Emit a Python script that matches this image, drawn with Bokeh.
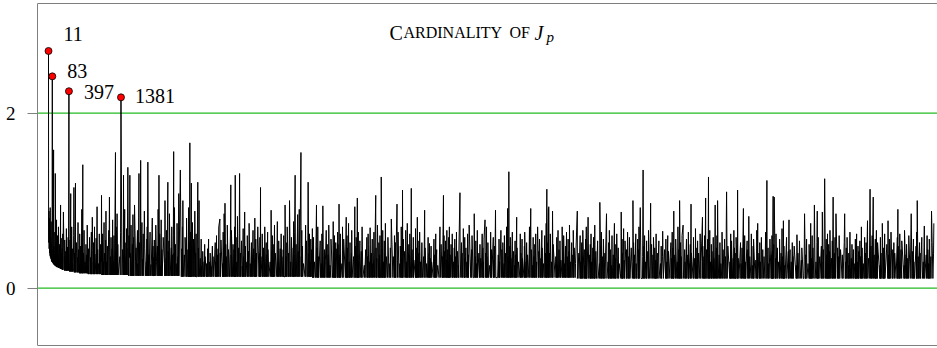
import numpy as np
from bokeh.plotting import figure
from bokeh.models import ColumnDataSource, Range1d, FixedTicker, Label, Span
from bokeh.core.properties import value
from bokeh.embed import file_html
from bokeh.resources import INLINE

# ---------------- data ----------------
# |J_p| ratio for consecutive primes p = 11, 13, 17, ... , values x 100
values_x100 = [
    # p = 11 .. 397
    271, 70, 52, 88, 45, 80, 40, 66, 37, 92,
    35, 58, 33, 76, 31, 50, 30, 62, 242, 29,
    44, 28, 72, 158, 27, 48, 26, 64, 26, 131,
    25, 52, 25, 78, 24, 45, 24, 60, 24, 38,
    23, 70, 23, 50, 23, 34, 22, 95, 22, 57,
    22, 40, 21, 45, 21, 62, 21, 87, 21, 36,
    20, 55, 20, 42, 20, 68, 20, 31, 20, 47,
    20, 58, 20, 225,
    # p = 401 .. 997
    30, 19, 55, 19, 108, 19, 38, 19, 70, 19,
    45, 19, 28, 19, 60, 115, 18, 40, 18, 120,
    18, 52, 18, 35, 18, 75, 18, 44, 18, 27,
    17, 62, 17, 48, 17, 33, 17, 90, 17, 55,
    17, 141, 17, 40, 17, 66, 17, 30, 17, 50,
    17, 38, 17, 72, 17, 26, 16, 45, 16, 58,
    16, 35, 16, 64, 16, 42, 16, 81, 16, 30,
    16, 52, 16, 70, 16, 39, 16, 57, 16, 93,
    16, 44, 16, 28, 16, 62, 16, 36, 16, 50,
    # p = 1009 .. 1499
    30, 106, 15, 45, 15, 62, 15, 30, 15, 75,
    15, 40, 15, 55, 15, 88, 15, 30, 15, 48,
    15, 66, 15, 104, 15, 36, 15, 58, 15, 45,
    15, 78, 15, 30, 15, 60, 15, 155, 15, 42,
    15, 70, 15, 30, 15, 85, 15, 50, 15, 36,
    15, 64, 218, 15, 44, 15, 72, 129, 15, 38,
    15, 90, 15, 52, 15, 30, 15, 68, 15, 46,
    15,
    # p = 1511 .. 1999
    138, 14, 60, 35, 129, 14, 40, 14, 72, 14,
    25, 50, 14, 84, 14, 36, 14, 58, 14, 95,
    30, 14, 46, 14, 66, 14, 28, 14, 131, 14,
    52, 14, 40, 146, 14, 75, 14, 33, 14, 62,
    14, 88, 45, 14, 30, 14, 56, 14, 70, 14,
    144, 14, 38, 14, 64, 14, 27, 14, 80, 14,
    48, 14, 35, 14,
    # p = 2003 .. 2477
    14, 55, 14, 40, 14, 72, 30, 14, 48, 14,
    90, 14, 36, 129, 14, 62, 14, 25, 14, 78,
    14, 44, 14, 58, 28, 14, 100, 14, 34, 14,
    66, 14, 121, 14, 42, 14, 54, 14, 85, 30,
    14, 46, 14, 70, 14, 38, 14, 60, 156, 14,
    40, 14, 92, 14, 50, 14, 28, 14, 74, 14,
    36, 14, 108, 14,
    # p = 2503 .. 2999
    135, 13, 45, 13, 70, 13, 100, 13, 38, 13,
    58, 28, 13, 80, 13, 44, 13, 92, 13, 52,
    13, 166, 13, 36, 13, 64, 13, 120, 13, 48,
    13, 75, 30, 13, 56, 13, 88, 13, 40, 13,
    62, 13, 13, 121, 13, 46, 13, 100, 13, 34,
    13, 56, 13, 25, 13, 42, 13, 30, 13, 50,
    13, 36, 13,
    # p = 3001 .. 3499
    28, 13, 45, 13, 56, 13, 30, 13, 40, 13,
    25, 13, 48, 13, 36, 13, 52, 13, 30, 13,
    60, 13, 38, 13, 45, 13, 70, 79, 13, 40,
    13, 55, 13, 28, 13, 64, 13, 46, 13, 85,
    13, 97, 13, 50, 13, 36, 13, 72, 13, 44,
    13, 60, 118, 13, 38, 13, 66, 13, 50,
    # p = 3511 .. 3989
    13, 44, 13, 70, 13, 36, 129, 13, 58, 13,
    30, 13, 82, 13, 46, 13, 62, 131, 13, 40,
    13, 54, 13, 25, 13, 68, 13, 36, 13, 87,
    13, 48, 13, 30, 13, 60, 13, 42, 13, 74,
    13, 28, 13, 52, 13, 38, 13, 66, 13, 45,
    13, 80, 13, 34, 13, 56, 13, 40, 13, 70,
    13,
    # p = 4001 .. 4493
    40, 13, 58, 13, 115, 13, 36, 13, 62, 13,
    46, 13, 28, 13, 70, 13, 52, 13, 38, 13,
    64, 13, 44, 13, 30, 13, 56, 89, 13, 42,
    13, 60, 13, 34, 13, 50, 13, 72, 13, 40,
    13, 76, 13, 30, 13, 54, 13, 45, 13, 62,
    13, 36, 13,
    # p = 4507 .. 4999
    44, 13, 60, 13, 13, 95, 13, 36, 13, 52,
    13, 70, 13, 40, 13, 100, 13, 30, 13, 58,
    13, 46, 13, 76, 13, 38, 13, 64, 129, 13,
    50, 13, 84, 13, 42, 13, 90, 13, 155, 13,
    36, 13, 66, 13, 48, 13, 28, 13, 72, 13,
    54, 13, 13, 121, 13, 40, 13, 62, 13, 30,
    13, 56, 13, 44, 13, 68,
    # p = 5003 .. 5483
    12, 40, 12, 58, 12, 30, 12, 12, 95, 12,
    46, 12, 70, 12, 36, 12, 54, 12, 28, 12,
    62, 12, 94, 12, 44, 12, 30, 12, 66, 12,
    50, 12, 38, 12, 72, 12, 26, 12, 56, 12,
    12, 76, 12, 42, 12, 60, 12, 34, 12, 52,
    12, 45, 12, 64,
    # p = 5501 .. 5987
    12, 50, 12, 96, 12, 38, 12, 62, 12, 28,
    12, 70, 44, 12, 56, 12, 81, 12, 34, 12,
    60, 12, 46, 12, 74, 12, 30, 12, 52, 12,
    40, 12, 66, 12, 36, 12, 12, 93, 12, 48,
    12, 58, 12, 12, 103, 12, 38, 12, 64, 12,
    30, 12, 54, 12, 42, 12, 70, 12, 26, 12,
    # p = 6007 .. 6491
    44, 12, 58, 12, 36, 12, 62, 12, 30, 12,
    50, 69, 12, 40, 12, 56, 12, 28, 12, 64,
    12, 106, 12, 46, 12, 34, 12, 72, 12, 52,
    12, 38, 12, 60, 12, 12, 127, 12, 44, 12,
    66, 12, 30, 12, 54, 12, 40, 12, 74, 12,
    36, 12, 58, 12, 28,
    # p = 6521 .. 6997
    12, 46, 12, 79, 12, 36, 12, 60, 12, 30,
    12, 52, 12, 40, 96, 12, 64, 12, 28, 12,
    48, 12, 70, 12, 34, 12, 112, 12, 56, 12,
    42, 12, 66, 12, 30, 12, 74, 12, 50, 12,
    38, 12, 62, 12, 12, 114, 12, 44, 12, 58,
    12, 32, 12, 68, 12, 46, 12, 36, 12, 81,
    12, 54,
    # p = 7001 .. 7499
    12, 40, 12, 64, 12, 30, 12, 52, 12, 36,
    12, 89, 12, 46, 12, 28, 12, 58, 12, 40,
    12, 51, 12, 34, 12, 48, 12, 30, 12, 56,
    12, 38, 12, 62, 12, 44, 12, 26, 12, 70,
    12, 50, 12, 36, 12, 106, 12, 60, 12, 42,
    # p = 7507 .. 7993
    12, 54, 12, 32, 12, 66, 12, 44, 12, 28,
    12, 58, 12, 70, 12, 38, 12, 50, 12, 62,
    12, 30, 12, 46, 12, 56, 12, 36, 12, 64,
    12, 42, 12, 26, 12, 109, 12, 52, 12, 40,
    12, 68, 12, 34, 12, 58, 12, 46, 12, 30,
    12, 62, 12, 38, 12, 72, 12,
    # p = 8009 .. 8467
    44, 12, 60, 12, 12, 85, 12, 36, 12, 54,
    12, 28, 12, 66, 12, 40, 12, 50, 12, 34,
    12, 62, 12, 46, 12, 30, 12, 56, 78, 12,
    40, 12, 70, 12, 36, 12, 52, 12, 26, 12,
    64, 12, 44, 12, 58, 12, 32, 12, 48, 12,
    89, 12,
    # p = 8501 .. 8999
    12, 38, 12, 56, 12, 30, 12, 66, 12, 44,
    12, 52, 12, 28, 12, 60, 12, 40, 12, 70,
    12, 12, 91, 12, 36, 12, 133, 12, 48, 12,
    58, 12, 34, 12, 64, 12, 42, 12, 26, 12,
    54, 12, 38, 12, 81, 12, 46, 12, 30, 12,
    62, 12, 40, 12, 56, 12, 34, 12,
    # p = 9001 .. 9497
    12, 48, 12, 64, 12, 30, 12, 52, 12, 38,
    12, 70, 12, 91, 12, 44, 12, 26, 12, 58,
    12, 36, 12, 50, 12, 62, 12, 30, 12, 70,
    12, 42, 12, 56, 12, 34, 12, 66, 12, 46,
    12, 28, 12, 60, 12, 40, 12, 74, 12, 113,
    12, 52, 12, 91,
    # p = 9511 .. 9973
    12, 93, 12, 40, 12, 62, 12, 30, 12, 88,
    12, 50, 12, 36, 12, 58, 12, 26, 12, 66,
    12, 44, 12, 54, 12, 32, 12, 70, 12, 40,
    12, 60, 12, 28, 12, 48, 12, 64, 12, 36,
    12, 56, 12, 42, 12, 72, 12, 30, 12, 52,
    12, 38, 12, 66, 12, 46, 12, 28,
    # p = 10007 .. 10993
    88, 11, 40, 11, 60, 11, 30, 11, 52, 11,
    36, 11, 66, 11, 44, 11, 26, 11, 56, 11,
    70, 11, 11, 81, 11, 38, 11, 50, 11, 62,
    11, 30, 11, 46, 11, 58, 11, 34, 11, 72,
    11, 42, 11, 54, 11, 28, 11, 98, 11, 48,
    11, 64, 11, 36, 11, 56, 11, 40, 11, 85,
    11, 30, 11, 52, 11, 66, 11, 44, 11, 26,
    11, 60, 11, 38, 11, 74, 11, 50, 11, 34,
    11, 62, 11, 46, 11, 28, 11, 87, 11, 56,
    11, 40, 11, 68, 11, 32, 11, 54, 11, 44,
    11, 64, 11, 36, 11, 58,
    # p = 11003 .. 11987
    11, 46, 11, 30, 100, 11, 52, 11, 38, 11,
    62, 11, 28, 11, 56, 11, 44, 11, 70, 11,
    92, 11, 11, 36, 135, 11, 48, 11, 60, 11,
    30, 11, 54, 11, 42, 11, 66, 11, 26, 97,
    11, 50, 11, 38, 11, 58, 11, 46, 11, 32,
    11, 62, 11, 40, 11, 54, 11, 28, 11, 48,
    11, 36, 65, 11, 44, 11, 56, 11, 30, 11,
    60, 11, 42, 11, 52, 11, 34, 11, 64, 11,
    46, 11, 11, 88, 11, 38, 11, 56, 11, 30,
    11, 70, 11, 44, 11, 11, 100, 11, 52, 11,
    36, 11, 60,
    # p = 12007 .. 12983
    72, 11, 44, 11, 30, 11, 56, 11, 38, 11,
    64, 11, 28, 11, 50, 11, 96, 11, 40, 11,
    58, 11, 34, 11, 68, 11, 46, 11, 26, 11,
    54, 11, 40, 11, 62, 11, 30, 81, 11, 48,
    11, 36, 11, 60, 11, 103, 11, 44, 11, 56,
    11, 127, 11, 38, 11, 66, 11, 30, 11, 50,
    11, 42, 11, 58, 11, 34, 11, 70, 95, 11,
    46, 11, 60, 11, 100, 11, 38, 11, 52, 11,
    28, 11, 64, 11, 44, 11, 56, 11, 36, 11,
    72, 110, 11, 48, 11, 30, 11, 62, 11, 40,
    11, 54, 11, 34, 11, 66, 11, 46, 11,
    # p = 13001 .. 13999
    11, 40, 11, 58, 11, 112, 11, 34, 11, 52,
    11, 28, 11, 46, 11, 91, 11, 38, 11, 60,
    11, 30, 11, 54, 11, 44, 11, 82, 11, 36,
    11, 62, 11, 26, 11, 48, 11, 56, 11, 32,
    11, 66, 11, 74, 11, 40, 11, 52, 11, 30,
    11, 58, 11, 44, 11, 36, 11, 64, 11, 123,
    11, 46, 11, 28, 11, 56, 11, 38, 11, 60,
    11, 42, 11, 105, 11, 50, 11, 104, 11, 34,
    11, 62, 11, 46, 11, 30, 11, 56, 11, 40,
    11, 68, 11, 36, 11, 77, 11, 48, 11, 26,
    11, 58, 11, 42, 11,
    # p = 14009 .. 14983
    78, 11, 44, 11, 30, 11, 52, 11, 36, 11,
    48, 11, 26, 11, 61, 11, 40, 11, 54, 11,
    32, 11, 46, 11, 11, 85, 11, 38, 11, 56,
    11, 28, 11, 50, 11, 42, 11, 74, 11, 34,
    11, 60, 11, 46, 11, 95, 11, 30, 11, 52,
    88, 11, 40, 11, 58, 11, 36, 11, 48, 11,
    30, 11, 87, 11, 44, 11, 125, 11, 56, 11,
    38, 11, 62, 11, 28, 11, 50, 11, 42, 11,
    66, 11, 34, 11, 54, 11, 104, 11, 40, 11,
    58, 11, 30, 85, 11, 46, 11, 36, 11, 60,
    11, 44,
    # p = 15013 .. 15991
    11, 38, 11, 52, 85, 11, 30, 11, 46, 11,
    58, 11, 26, 11, 40, 11, 64, 11, 34, 11,
    50, 11, 44, 11, 28, 11, 56, 11, 38, 11,
    62, 11, 30, 11, 48, 11, 42, 11, 54, 11,
    36, 11, 70, 11, 46, 11, 28, 11, 58, 11,
    40, 11, 52, 11, 77, 11, 34, 11, 113, 11,
    48, 11, 60, 11, 104, 11, 38, 11, 56, 11,
    30, 11, 66, 11, 44, 11, 52, 11, 26, 11,
    58, 11, 40, 11, 11, 74, 11, 46, 11, 34,
    11, 62, 11, 50, 11, 77, 11, 38, 11, 56,
    11, 30, 11, 64, 11, 44, 11, 52,
    # p = 16001 ..
    11, 40, 11, 58, 11, 36, 90, 11, 48, 11,
    30, 11, 62, 11, 44, 11, 54, 11, 26, 11,
    66, 11, 38, 11, 50, 11, 34, 11, 60, 11,
    85, 11, 42, 11, 56, 11, 30, 11, 48, 11,
    64, 11, 100, 11, 36, 11, 52, 11, 40, 11,
    58, 11, 30, 11, 46, 71, 11, 38, 11, 60,
    11, 44, 11, 28, 11, 56, 11, 36, 11, 52,
    88, 11, 40, 74,
]

labeled_p = [11, 83, 397, 1381]
labeled_values = [2.71, 2.42, 2.25, 2.18]
labeled_text = ["11", "83", "397", "1381"]

y_ticks = [0, 2]
title_small_caps = ["C", "ARDINALITY", "OF"]


def primes_from(start, count):
    out = []
    n = start
    while len(out) < count:
        if n > 1 and all(n % d for d in range(2, int(n ** 0.5) + 1)):
            out.append(n)
        n += 1
    return out


p_values = primes_from(11, len(values_x100))
card = [v / 100.0 for v in values_x100]
for pp, vv in zip(labeled_p, labeled_values):
    card[p_values.index(pp)] = vv

# ---------------- figure ----------------
Y0, Y1 = -0.656, 3.2526
fig = figure(width=937, height=348, output_backend="svg", toolbar_location=None,
             x_axis_location=None,
             x_range=Range1d(-197, 16816), y_range=Range1d(Y0, Y1),
             min_border_left=37, min_border_right=0, min_border_top=3, min_border_bottom=3)
fig.outline_line_color = None
fig.background_fill_color = "white"
fig.border_fill_color = "white"

fig.xgrid.visible = False
fig.ygrid.visible = False

ax = fig.yaxis[0]
ax.ticker = FixedTicker(ticks=y_ticks)
ax.axis_line_color = "#808080"
ax.major_tick_line_color = "#808080"
ax.major_tick_out = 10
ax.major_tick_in = 0
ax.minor_tick_line_color = None
ax.major_label_standoff = 12
ax.major_label_text_font = "Liberation Serif"
ax.major_label_text_font_size = "19px"
ax.major_label_text_color = "black"

# green reference lines at the y ticks
for t in y_ticks:
    fig.add_layout(Span(location=t, dimension="width", line_color="#22bb22",
                        line_width=1.2, level="underlay"))

# top & bottom frame lines
fig.add_layout(Span(location=Y1, dimension="width", line_color="black", line_width=1))
fig.add_layout(Span(location=Y0, dimension="width", line_color="black", line_width=1))

src = ColumnDataSource(dict(p=p_values, card=card))
fig.line("p", "card", source=src, line_color="black", line_width=1)

lab_src = ColumnDataSource(dict(p=labeled_p, v=labeled_values, t=labeled_text,
                                dx=[15, 15, 15, 14], dy=[-17, -5, 1, -1]))
fig.scatter("p", "v", source=lab_src, size=7, fill_color="red",
            line_color="black", line_width=0.8)
fig.text("p", "v", text="t", source=lab_src, x_offset="dx", y_offset="dy",
         text_font=value("Liberation Serif"), text_font_size=value("20px"),
         text_baseline="alphabetic", text_align="left", text_color="black")

# title in small caps
common = dict(x_units="screen", y_units="screen", text_font="Liberation Serif",
              text_baseline="alphabetic", text_align="left", text_color="black")
fig.add_layout(Label(x=352, y=313, text=title_small_caps[0], text_font_size="20px", **common))
fig.add_layout(Label(x=366, y=313, text=title_small_caps[1], text_font_size="16px", **common))
fig.add_layout(Label(x=472, y=313, text=title_small_caps[2], text_font_size="16px", **common))
fig.add_layout(Label(x=497, y=313, text="J", text_font_size="20px", text_font_style="italic", **common))
fig.add_layout(Label(x=509, y=309, text="p", text_font_size="15px", text_font_style="italic", **common))

open("out.html", "w").write(file_html(fig, INLINE))
